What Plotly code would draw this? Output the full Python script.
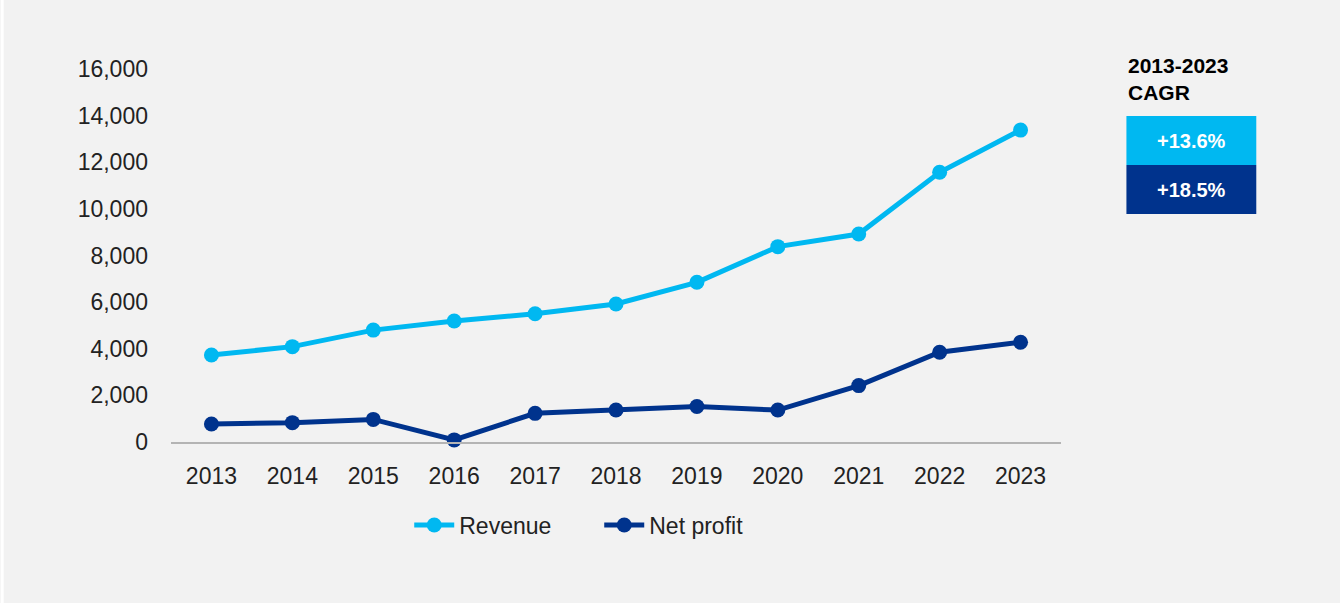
import plotly.graph_objects as go

years = ["2013", "2014", "2015", "2016", "2017", "2018", "2019", "2020", "2021", "2022", "2023"]
revenue = [3730, 4090, 4800, 5190, 5500, 5920, 6850, 8380, 8920, 11570, 13380]
net_profit = [770, 830, 970, 90, 1230, 1370, 1520, 1370, 2420, 3850, 4280]
y_ticks = [0, 2000, 4000, 6000, 8000, 10000, 12000, 14000, 16000]
cagr_title = "2013-2023<br>CAGR"
cagr_labels = ["+13.6%", "+18.5%"]

c_rev = "#00b8f1"
c_np = "#00338d"
font_family = "Liberation Sans, Arial, sans-serif"

fig = go.Figure()
fig.add_trace(go.Scatter(x=years, y=revenue, name="Revenue", mode="lines+markers",
                         line=dict(color=c_rev, width=5), marker=dict(size=15, color=c_rev),
                         cliponaxis=False))
fig.add_trace(go.Scatter(x=years, y=net_profit, name="Net profit", mode="lines+markers",
                         line=dict(color=c_np, width=5), marker=dict(size=15, color=c_np),
                         cliponaxis=False))

L, R, T, B = 170.5, 278.5, 69, 161
W, H = 1340, 603
pw = W - L - R
ph = H - T - B

def px_x(p):
    return (p - L) / pw

def px_y(p):
    return (H - B - p) / ph

# CAGR boxes
box_x0, box_x1 = px_x(1127), px_x(1257)
edges = [116, 165, 214]
colors = [c_rev, c_np]
for i, lab in enumerate(cagr_labels):
    fig.add_shape(type="rect", xref="paper", yref="paper", x0=box_x0, x1=box_x1,
                  y0=px_y(edges[i + 1]), y1=px_y(edges[i]), fillcolor=colors[i], line=dict(width=0))
    fig.add_annotation(xref="paper", yref="paper", x=(box_x0 + box_x1) / 2,
                       y=(px_y(edges[i]) + px_y(edges[i + 1])) / 2, xanchor="center", yanchor="middle",
                       text="<b>" + lab + "</b>",
                       showarrow=False, font=dict(color="white", size=20, family=font_family))
fig.add_annotation(xref="paper", yref="paper", x=px_x(1127), y=px_y(52), xanchor="left", yanchor="top",
                   align="left", text="<b>" + cagr_title + "</b>", showarrow=False,
                   font=dict(color="black", size=21, family=font_family))
# thin white strip at the left edge
fig.add_shape(type="rect", xref="paper", yref="paper", x0=px_x(0), x1=px_x(3), y0=px_y(H), y1=px_y(0),
              fillcolor="white", line=dict(width=0), layer="below")

fig.update_layout(
    width=W, height=H,
    margin=dict(l=L, r=R, t=T, b=B, pad=0),
    paper_bgcolor="#f2f2f2", plot_bgcolor="#f2f2f2",
    font=dict(family=font_family, size=23, color="#222222"),
    showlegend=True,
    legend=dict(orientation="h", x=px_x(409), y=px_y(525), xanchor="left", yanchor="middle",
                font=dict(size=23), bgcolor="rgba(0,0,0,0)", itemwidth=40, traceorder="normal",
                entrywidth=135),
    xaxis=dict(type="category", range=[-0.5, 10.5], showgrid=False, showline=True,
               linecolor="#b4b4b4", linewidth=2, ticks="", ticklabelstandoff=12, zeroline=False),
    yaxis=dict(range=[0, 16000], tickvals=y_ticks, tickformat=",", showgrid=False,
               showline=False, zeroline=False, ticks="", ticklabelstandoff=22),
)

fig.write_html("out.html", config={"displayModeBar": False},
               post_script="document.body.style.margin='0';document.body.style.background='#f2f2f2';")
